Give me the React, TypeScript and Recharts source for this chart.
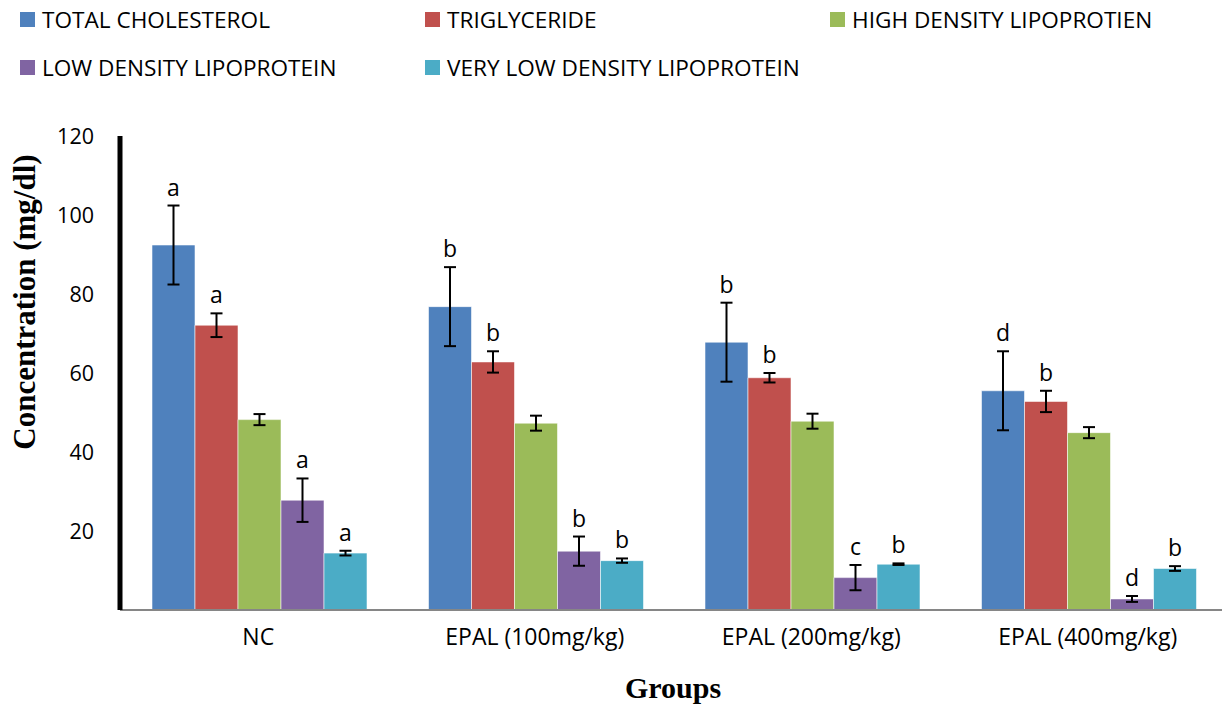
import React from "react";
import { BarChart, Bar, XAxis, YAxis, ErrorBar, LabelList, Label } from "recharts";

// groups on the x axis
const GROUPS = ["NC", "EPAL (100mg/kg)", "EPAL (200mg/kg)", "EPAL (400mg/kg)"];

// mean values (mg/dl)
const TOTAL_CHOL = [92.4, 76.8, 67.8, 55.5];
const TRIGLYCERIDE = [72.1, 62.8, 58.8, 52.8];
const HDL = [48.2, 47.3, 47.8, 44.9];
const LDL = [27.8, 14.9, 8.2, 2.8];
const VLDL = [14.4, 12.5, 11.6, 10.5];

// error bars (+/-)
const TOTAL_CHOL_ERR = [10, 10, 10, 10];
const TRIGLYCERIDE_ERR = [3, 2.7, 1.2, 2.7];
const HDL_ERR = [1.4, 1.9, 1.9, 1.4];
const LDL_ERR = [5.5, 3.7, 3.2, 0.75];
const VLDL_ERR = [0.6, 0.55, 0.2, 0.6];

// significance letters ("" = none)
const TOTAL_CHOL_SIG = ["a", "b", "b", "d"];
const TRIGLYCERIDE_SIG = ["a", "b", "b", "b"];
const HDL_SIG = ["", "", "", ""];
const LDL_SIG = ["a", "b", "c", "d"];
const VLDL_SIG = ["a", "b", "b", "b"];

const Y_TICKS = [20, 40, 60, 80, 100, 120];

const SERIES = [
  { key: "tc", name: "TOTAL CHOLESTEROL", color: "#4F81BD", values: TOTAL_CHOL, err: TOTAL_CHOL_ERR, sig: TOTAL_CHOL_SIG },
  { key: "tg", name: "TRIGLYCERIDE", color: "#C0504D", values: TRIGLYCERIDE, err: TRIGLYCERIDE_ERR, sig: TRIGLYCERIDE_SIG },
  { key: "hdl", name: "HIGH DENSITY LIPOPROTIEN", color: "#9BBB59", values: HDL, err: HDL_ERR, sig: HDL_SIG },
  { key: "ldl", name: "LOW DENSITY LIPOPROTEIN", color: "#8064A2", values: LDL, err: LDL_ERR, sig: LDL_SIG },
  { key: "vldl", name: "VERY LOW DENSITY LIPOPROTEIN", color: "#4BACC6", values: VLDL, err: VLDL_ERR, sig: VLDL_SIG },
];

const data = GROUPS.map((group, i) => {
  const row: Record<string, string | number> = { group };
  SERIES.forEach((s) => {
    row[s.key] = s.values[i];
    row[s.key + "Err"] = s.err[i];
    row[s.key + "Sig"] = s.sig[i];
  });
  return row;
});

const SANS = "'Open Sans', 'DejaVu Sans', sans-serif";
const SERIF = "'Liberation Serif', 'DejaVu Serif', serif";

// letter sits above the top of the error bar
function sigLabel(values: number[], errs: number[]) {
  return (props: any) => {
    const { x, y, width, height, value, index } = props;
    if (!value) return null;
    const perUnit = height / values[index];
    const top = y - errs[index] * perUnit;
    return (
      <text x={x + width / 2} y={top - 10} textAnchor="middle" fontSize={23}
        fontFamily={SANS} fill="#000">
        {value}
      </text>
    );
  };
}

function YTitle(props: any) {
  const vb = props.viewBox || {};
  const cx = (vb.x ?? 0) + 24;
  const cy = (vb.y ?? 0) + 166;
  return (
    <text x={cx} y={cy} transform={`rotate(-90, ${cx}, ${cy})`} textAnchor="middle"
      dominantBaseline="central" fontFamily={SERIF} fontWeight="bold" fontSize={31} fill="#000">
      Concentration (mg/dl)
    </text>
  );
}

function LegendBox() {
  return (
    <div style={{ position: "absolute", left: 20, top: -4.5, width: 1215, display: "flex", flexWrap: "wrap" }}>
      {SERIES.map((s) => (
        <div key={s.key} style={{ width: 405, height: 48, display: "flex", alignItems: "center" }}>
          <span style={{ width: 15, height: 15, background: s.color, marginRight: 7, flexShrink: 0 }} />
          <span style={{ fontFamily: SANS, fontSize: 22.6, color: "#000", whiteSpace: "nowrap" }}>{s.name}</span>
        </div>
      ))}
    </div>
  );
}

export default function App() {
  return (
    <div style={{ position: "absolute", left: 0, top: 0, width: 1222, height: 706, overflow: "hidden", background: "#fff" }}>
      <LegendBox />
      <BarChart
        width={1226}
        height={706}
        data={data}
        margin={{ top: 136, right: 0, bottom: 0, left: 0 }}
        barCategoryGap={32}
        barGap={0}
        style={{ position: "absolute", left: 0, top: 0 }}
      >
        <XAxis
          dataKey="group"
          height={96}
          axisLine={{ stroke: "#868686", strokeWidth: 2 }}
          tickLine={false}
          tickSize={0}
          tickMargin={19}
          tick={{ fontFamily: SANS, fontSize: 23, fill: "#000" }}
          interval={0}
        >
          <Label value="Groups" position="insideBottom" offset={8}
            style={{ fontFamily: SERIF, fontWeight: "bold", fontSize: 30, fill: "#000" }} />
        </XAxis>
        <YAxis
          width={120}
          domain={[0, 120]}
          ticks={Y_TICKS}
          axisLine={{ stroke: "#000", strokeWidth: 5 }}
          tickLine={false}
          tickSize={0}
          tickMargin={26}
          tick={{ fontFamily: SANS, fontSize: 21.5, fill: "#000" }}
          label={<YTitle />}
        />
        {SERIES.map((s) => (
          <Bar key={s.key} dataKey={s.key} name={s.name} fill={s.color}
            stroke="rgba(255,255,255,0.55)" strokeWidth={1} isAnimationActive={false}>
            <ErrorBar dataKey={s.key + "Err"} width={6} strokeWidth={2} stroke="#000"
              direction="y" isAnimationActive={false} />
            <LabelList dataKey={s.key + "Sig"} content={sigLabel(s.values, s.err)} />
          </Bar>
        ))}
      </BarChart>
    </div>
  );
}
